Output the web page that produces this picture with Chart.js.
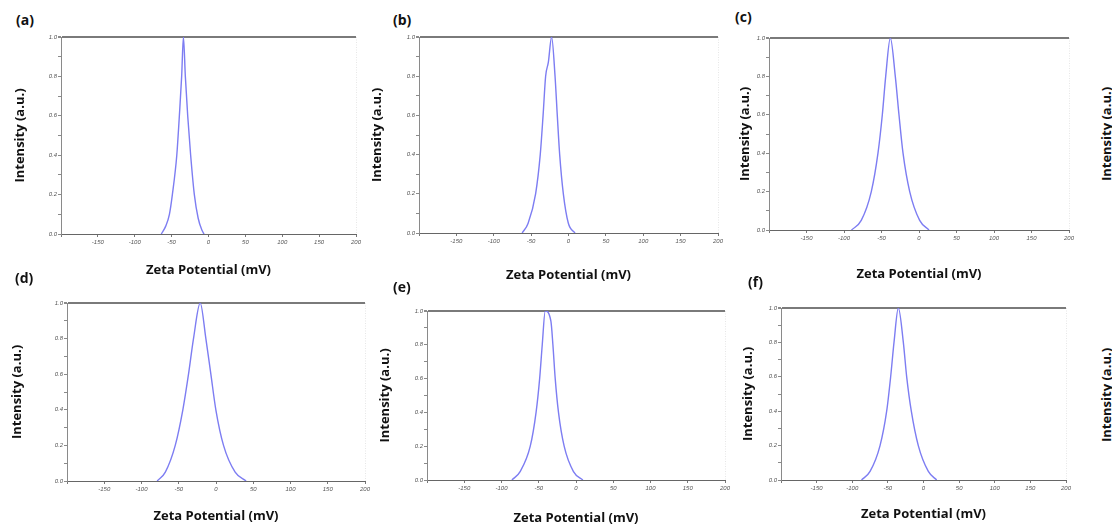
<!DOCTYPE html>
<html>
<head>
<meta charset="utf-8">
<title>Zeta potential distributions</title>
<script src="https://cdn.jsdelivr.net/npm/chart.js@4.4.0/dist/chart.umd.min.js"></script>
<style>
  html, body { margin: 0; padding: 0; background: #fff; }
  #fig { position: relative; width: 1112px; height: 528px; overflow: hidden; background: #fff; }
  #fig canvas { position: absolute; }
  .tag { position: absolute; font: bold 14px 'Open Sans', sans-serif; color: #111; line-height: 16px; }
  .stray { position: absolute; font: bold 13px 'Open Sans', sans-serif; color: #111; white-space: nowrap;
           transform: translate(-50%, -50%) rotate(-90deg); }
</style>
</head>
<body>
<div id="fig"></div>
<script>
/* ---------------------
	zeta potential, 6 samples (a)-(f)
	values
 ---------------------- */
const zetaA      = [-64, -58, -53, -49, -43, -39.5, -36.4, -34, -31.4, -28.2, -24.2, -19.2, -14, -9, -6];
const intensityA = [0, 0.04, 0.1, 0.2, 0.4, 0.6, 0.8, 1.0, 0.8, 0.6, 0.4, 0.2, 0.08, 0.02, 0];

const zetaB      = [-62, -54, -44, -37.8, -34, -30.6, -27, -22.6, -18, -15, -11.8, -6.9, -0.2, 8.7];
const intensityB = [0, 0.05, 0.2, 0.4, 0.6, 0.8, 0.87, 1.0, 0.8, 0.6, 0.4, 0.2, 0.05, 0];

const zetaC      = [-90, -77, -63.6, -54.7, -48.9, -44.4, -38.2, -31.6, -26.7, -21.3, -12.4, 0.9, 13.3];
const intensityC = [0, 0.05, 0.2, 0.4, 0.6, 0.8, 1.0, 0.8, 0.6, 0.4, 0.2, 0.05, 0];

const zetaD      = [-79, -68, -54.7, -44.5, -36.9, -30.2, -21.2, -13.6, -6.9, -0.2, 10.1, 25.7, 40.4];
const intensityD = [0, 0.05, 0.2, 0.4, 0.6, 0.8, 1.0, 0.8, 0.6, 0.4, 0.2, 0.05, 0];

const zetaE      = [-86, -75, -61.4, -53.6, -48.8, -45.3, -41.3, -33.7, -31, -27.9, -23.5, -15.9, -3.4, 9.2];
const intensityE = [0, 0.05, 0.2, 0.4, 0.6, 0.8, 1.0, 0.94, 0.8, 0.6, 0.4, 0.2, 0.05, 0];

const zetaF      = [-87, -75, -61, -51.7, -46.1, -41.4, -35.3, -28.3, -23.6, -17.1, -7.3, 6.8, 18.5];
const intensityF = [0, 0.05, 0.2, 0.4, 0.6, 0.8, 1.0, 0.8, 0.6, 0.4, 0.2, 0.05, 0];

// tick labels
const xTickValues = [-150, -100, -50, 0, 50, 100, 150, 200];
const yTickLabels = ['0.0', '0.2', '0.4', '0.6', '0.8', '1.0'];
const xTitle = 'Zeta Potential (mV)';
const yTitle = 'Intensity (a.u.)';

// panel placement on the page (plot box L/T/R/B, title positions, letter position)
const panels = [
	{ tag: '(a)', zeta: zetaA, inten: intensityA, L: 61,  T: 37,  R: 356,  B: 234, yTx: 20,  xTy: 270, tx: 16,  ty: 12 },
	{ tag: '(b)', zeta: zetaB, inten: intensityB, L: 419, T: 37,  R: 718,  B: 233, yTx: 377, xTy: 275, tx: 393, ty: 12 },
	{ tag: '(c)', zeta: zetaC, inten: intensityC, L: 769, T: 38,  R: 1069, B: 230, yTx: 745, xTy: 274, tx: 735, ty: 9 },
	{ tag: '(d)', zeta: zetaD, inten: intensityD, L: 67,  T: 303, R: 365,  B: 481, yTx: 17,  xTy: 516, tx: 15,  ty: 270 },
	{ tag: '(e)', zeta: zetaE, inten: intensityE, L: 427, T: 311, R: 725,  B: 480, yTx: 385, xTy: 518, tx: 393, ty: 279 },
	{ tag: '(f)', zeta: zetaF, inten: intensityF, L: 781, T: 308, R: 1066, B: 480, yTx: 748, xTy: 514, tx: 748, ty: 274 },
];

const fig = document.getElementById('fig');
const TRANSPARENT = 'rgba(0,0,0,0)';
const TITLE_FONT = { family: "'Open Sans', sans-serif", size: 13, weight: 'bold', lineHeight: 1.2 };
const TICK_FONT = { family: "'Liberation Sans', sans-serif", size: 6, style: 'italic' };
const HALF_TITLE = 7.8;	// half of title line height
const PAD_TOP = 6, PAD_RIGHT = 10;

function makePanel(p) {
	const cl = Math.round(p.yTx - HALF_TITLE);
	const ct = p.T - PAD_TOP;
	const cw = p.R + PAD_RIGHT - cl;
	const ch = Math.round(p.xTy + HALF_TITLE) - ct;
	const yWidth = p.L - cl;
	const xHeight = ct + ch - p.B;

	const canvas = document.createElement('canvas');
	canvas.width = cw;
	canvas.height = ch;
	canvas.style.left = cl + 'px';
	canvas.style.top = ct + 'px';
	canvas.style.width = cw + 'px';
	canvas.style.height = ch + 'px';
	fig.appendChild(canvas);

	const tag = document.createElement('div');
	tag.className = 'tag';
	tag.style.left = p.tx + 'px';
	tag.style.top = p.ty + 'px';
	tag.textContent = p.tag;
	fig.appendChild(tag);

	new Chart(canvas, {
		type: 'scatter',
		data: {
			datasets: [{
				data: p.zeta.map((x, i) => ({ x: x, y: p.inten[i] })),
				showLine: true,
				borderColor: 'rgb(125,125,242)',
				borderWidth: 1.4,
				pointRadius: 0,
				cubicInterpolationMode: 'monotone',
				fill: false
			}]
		},
		options: {
			responsive: false,
			animation: false,
			devicePixelRatio: 1,
			layout: { padding: { top: PAD_TOP, right: PAD_RIGHT, left: 0, bottom: 0 } },
			plugins: { legend: { display: false }, tooltip: { enabled: false } },
			scales: {
				x: {
					type: 'linear',
					min: -200, max: 200,
					afterFit: (scale) => { scale.height = xHeight; },
					ticks: {
						stepSize: 50,
						autoSkip: false,
						maxRotation: 0,
						padding: 2,
						color: '#555',
						font: TICK_FONT,
						callback: (v) => xTickValues.includes(v) ? String(v) : ''
					},
					grid: {
						drawOnChartArea: true,
						color: (ctx) => (ctx.tick && ctx.tick.value === 200) ? '#e6e6e6' : TRANSPARENT,
						tickColor: '#777',
						tickLength: 3
					},
					border: { display: true, color: '#666', width: 1, dash: [1, 1.5] },
					title: { display: true, text: xTitle, color: '#111', font: TITLE_FONT, padding: { top: 0, bottom: 0 } }
				},
				y: {
					type: 'linear',
					min: 0, max: 1,
					afterFit: (scale) => { scale.width = yWidth; },
					ticks: {
						stepSize: 0.1,
						autoSkip: false,
						padding: 1,
						color: '#555',
						font: TICK_FONT,
						callback: (v) => {
							const i = Math.round(v * 10);
							return i % 2 === 0 ? yTickLabels[i / 2] : '';
						}
					},
					grid: {
						drawOnChartArea: true,
						color: (ctx) => (ctx.tick && Math.abs(ctx.tick.value - 1) < 1e-6) ? '#7a7a7a' : TRANSPARENT,
						lineWidth: (ctx) => (ctx.tick && Math.abs(ctx.tick.value - 1) < 1e-6) ? 2 : 1,
						tickColor: '#8a8a8a',
						tickLength: 3
					},
					border: { display: true, color: '#8a8a8a', width: 1 },
					title: { display: true, text: yTitle, color: '#111', font: TITLE_FONT, padding: { top: 0, bottom: 0 } }
				}
			}
		}
	});
}	// End of Function : makePanel

panels.forEach(makePanel);

// cut-off axis titles of the next column at the right edge
[134, 395].forEach((cy) => {
	const s = document.createElement('div');
	s.className = 'stray';
	s.style.left = '1106px';
	s.style.top = cy + 'px';
	s.textContent = yTitle;
	fig.appendChild(s);
});
</script>
</body>
</html>
